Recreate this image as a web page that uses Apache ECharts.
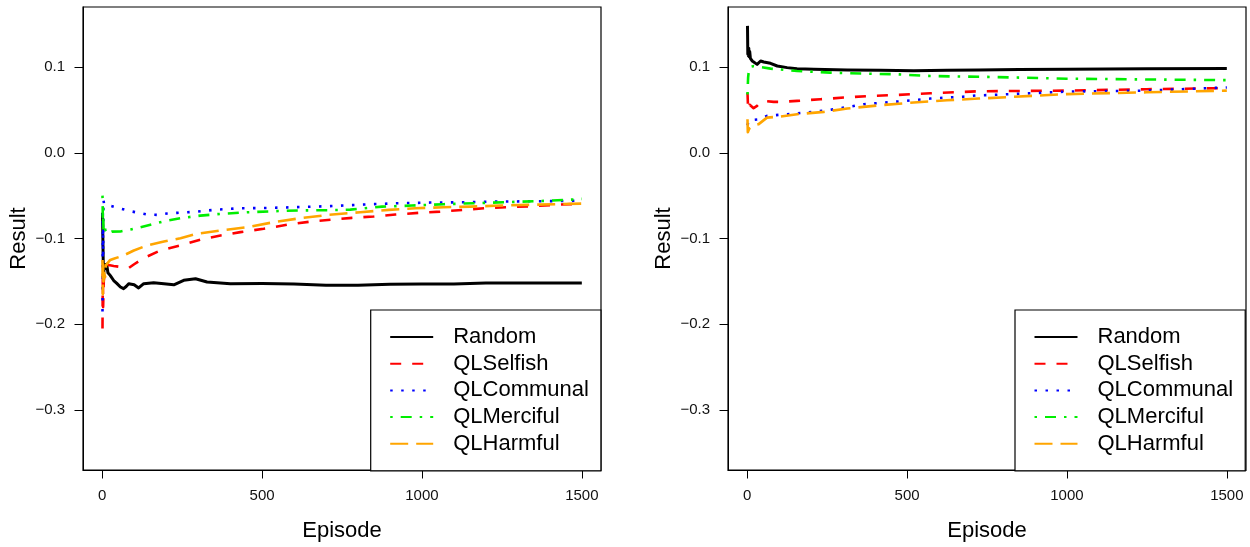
<!DOCTYPE html>
<html>
<head>
<meta charset="utf-8">
<script src="https://cdn.jsdelivr.net/npm/echarts@6/dist/echarts.min.js"></script>
<style>html,body{margin:0;padding:0;background:#fff}#c{width:1250px;height:547px}</style>
</head>
<body>
<div id="c"></div>
<script>
// ---- data ----
const seriesNames = ['Random', 'QLSelfish', 'QLCommunal', 'QLMerciful', 'QLHarmful'];
const xTicks = [0, 500, 1000, 1500];
const yTicks = [-0.3, -0.2, -0.1, 0.0, 0.1];

// Left panel
const randomL_ep = [1,2,3,4,5,7,10,14,18,25,36,45,57,67,75,83,100,114,130,161,193,224,255,292,328,401,500,600,700,800,900,1000,1100,1200,1300,1400,1500];
const randomL_val = [-0.07,-0.095,-0.12,-0.145,-0.14,-0.13,-0.135,-0.13,-0.14,-0.143,-0.149,-0.152,-0.1566,-0.1585,-0.156,-0.1527,-0.154,-0.1577,-0.1527,-0.1515,-0.1527,-0.154,-0.1488,-0.1469,-0.1508,-0.1527,-0.1525,-0.153,-0.1545,-0.1545,-0.1535,-0.153,-0.153,-0.152,-0.152,-0.152,-0.1518];

const selfishL_ep = [1,2,3,5,8,12,20,36,55,83,100,130,182,245,307,370,432,505,578,661,724,781,849,917,989,1057,1130,1198,1266,1339,1412,1479,1500];
const selfishL_val = [-0.205,-0.14,-0.18,-0.15,-0.14,-0.135,-0.131,-0.132,-0.133,-0.1345,-0.13,-0.1228,-0.114,-0.108,-0.1015,-0.0965,-0.0926,-0.0887,-0.084,-0.0798,-0.0779,-0.0759,-0.0744,-0.0721,-0.0701,-0.0686,-0.0666,-0.0647,-0.0635,-0.0624,-0.0608,-0.0597,-0.0595];

const communalL_ep = [1,2,3,4,6,10,31,52,94,141,172,203,234,266,297,359,432,505,599,703,818,922,1026,1130,1234,1339,1453,1500];
const communalL_val = [-0.185,-0.07,-0.12,-0.055,-0.06,-0.0585,-0.0624,-0.0647,-0.0686,-0.0721,-0.0725,-0.0709,-0.0701,-0.0694,-0.0686,-0.0663,-0.0647,-0.0645,-0.0635,-0.0624,-0.0604,-0.0589,-0.0581,-0.0577,-0.057,-0.0566,-0.0562,-0.0558];

const mercifulL_ep = [1,2,3,4,6,10,20,30,57,89,120,151,193,245,307,370,453,536,620,708,776,875,969,1068,1161,1255,1354,1453,1500];
const mercifulL_val = [-0.05,-0.075,-0.065,-0.09,-0.085,-0.09,-0.095,-0.092,-0.0918,-0.0895,-0.0868,-0.084,-0.080,-0.0763,-0.0733,-0.0713,-0.0694,-0.0682,-0.0672,-0.067,-0.0663,-0.0628,-0.0616,-0.06,-0.0589,-0.0577,-0.0565,-0.055,-0.0538];

const harmfulL_ep = [1,2,3,4,6,9,12,25,36,67,99,141,193,245,297,370,453,536,620,708,807,896,979,1068,1151,1245,1328,1417,1500];
const harmfulL_val = [-0.125,-0.165,-0.13,-0.15,-0.14,-0.145,-0.131,-0.125,-0.1236,-0.1198,-0.114,-0.108,-0.1035,-0.0996,-0.0945,-0.0907,-0.0868,-0.081,-0.0763,-0.0724,-0.0693,-0.0666,-0.0647,-0.0635,-0.0628,-0.0616,-0.0608,-0.06,-0.0593];

// Right panel
const randomR_ep = [1,2,3,4,5,6,8,10,13,16,21,31,42,52,73,94,125,156,208,313,417,521,625,724,850,1000,1250,1500];
const randomR_val = [0.148,0.115,0.12,0.113,0.122,0.112,0.118,0.11,0.108,0.107,0.105,0.1031,0.107,0.1058,0.1043,0.1012,0.0993,0.0981,0.0973,0.0965,0.0962,0.0957,0.0962,0.0965,0.097,0.0974,0.098,0.0982];

const selfishR_ep = [1,2,3,5,8,12,20,31,47,83,104,156,229,302,385,469,573,677,724,1000,1250,1500];
const selfishR_val = [0.07,0.06,0.05,0.052,0.056,0.054,0.052,0.0547,0.0605,0.0593,0.0593,0.0605,0.0624,0.0644,0.0663,0.0674,0.0694,0.071,0.0717,0.0725,0.0741,0.0754];

const communalR_ep = [1,3,6,8,19,38,62,125,188,260,365,469,573,677,719,750,1000,1250,1500];
const communalR_val = [0.032,0.035,0.0353,0.0384,0.0384,0.039,0.043,0.045,0.047,0.05,0.0566,0.0597,0.0632,0.0655,0.067,0.0672,0.0713,0.0725,0.0762];

const mercifulR_ep = [1,2,3,5,8,12,20,40,73,156,260,365,469,573,677,750,1000,1250,1500];
const mercifulR_val = [0.068,0.079,0.088,0.095,0.1,0.102,0.101,0.1,0.0981,0.0954,0.0935,0.0923,0.0915,0.0895,0.0888,0.0885,0.0864,0.0855,0.0847];

const harmfulR_ep = [1,2,4,6,10,20,36,62,104,156,240,313,417,521,625,724,1000,1250,1500];
const harmfulR_val = [0.039,0.024,0.023,0.028,0.03,0.032,0.0334,0.041,0.0423,0.045,0.0477,0.0516,0.0555,0.0586,0.0613,0.0632,0.0684,0.0705,0.0725];

// ---- styles ----
const FONT = "'Liberation Sans', Arial, Helvetica, sans-serif";
const styles = {
  'Random':     {color: '#000000', type: 'solid', width: 3},
  'QLSelfish':  {color: '#ff0000', type: [11, 11], width: 2.6},
  'QLCommunal': {color: '#0000ff', type: [2.5, 8.5], width: 2.6},
  'QLMerciful': {color: '#00ee00', type: [2.5, 8, 11, 8], width: 2.6},
  'QLHarmful':  {color: '#ffa500', type: [18, 8], width: 2.6}
};

const zip = (xs, ys) => xs.map((x, i) => [x, ys[i]]);
const panels = [
  [zip(randomL_ep, randomL_val), zip(selfishL_ep, selfishL_val), zip(communalL_ep, communalL_val), zip(mercifulL_ep, mercifulL_val), zip(harmfulL_ep, harmfulL_val)],
  [zip(randomR_ep, randomR_val), zip(selfishR_ep, selfishR_val), zip(communalR_ep, communalR_val), zip(mercifulR_ep, mercifulR_val), zip(harmfulR_ep, harmfulR_val)]
];

const gridLefts = [83, 728];
const grids = gridLefts.map(l => ({left: l, top: 7, width: 518, height: 464.5, show: true, borderColor: '#000', borderWidth: 1.2, containLabel: false}));

const fmtY = v => {
  const s = Number(v).toFixed(1);
  return s.startsWith('-') ? '\u2212' + s.slice(1) : s;
};

const xAxes = gridLefts.map((_, i) => ({
  type: 'value', gridIndex: i, min: -59.96, max: 1559.96,
  name: 'Episode', nameLocation: 'middle', nameGap: 50,
  nameTextStyle: {fontFamily: FONT, fontSize: 22, color: '#000'},
  axisLine: {show: true, onZero: false, lineStyle: {color: '#000', width: 1}},
  axisTick: {show: true, length: 8.5, inside: false, customValues: xTicks, lineStyle: {color: '#000', width: 1}},
  axisLabel: {show: true, customValues: xTicks, margin: 18, fontFamily: FONT, fontSize: 15, color: '#111', formatter: v => String(Math.round(v))},
  splitLine: {show: false}
}));

const yAxes = gridLefts.map((_, i) => ({
  type: 'value', gridIndex: i, min: -0.37, max: 0.17,
  name: 'Result', nameLocation: 'middle', nameGap: 53, nameRotate: 90,
  nameTextStyle: {fontFamily: FONT, fontSize: 22, color: '#000'},
  axisLine: {show: true, onZero: false, lineStyle: {color: '#000', width: 1}},
  axisTick: {show: true, length: 8.5, inside: false, customValues: yTicks, lineStyle: {color: '#000', width: 1}},
  axisLabel: {show: true, customValues: yTicks, margin: 18, fontFamily: FONT, fontSize: 15, color: '#111', formatter: fmtY},
  splitLine: {show: false}
}));

const series = [];
panels.forEach((p, gi) => {
  p.forEach((data, si) => {
    const name = seriesNames[si];
    const st = styles[name];
    series.push({
      type: 'line', name: name, xAxisIndex: gi, yAxisIndex: gi,
      data: data, symbol: 'none', showSymbol: false, smooth: false,
      lineStyle: {color: st.color, type: st.type, width: st.width, cap: 'butt', join: 'round'},
      itemStyle: {color: st.color},
      emphasis: {disabled: true}
    });
  });
});

const legends = [370.7, 1015].map(l => ({
  data: seriesNames, orient: 'vertical', left: l, top: 310,
  selectedMode: false,
  backgroundColor: '#fff', borderColor: '#000', borderWidth: 1.2,
  padding: [16, 12, 16, 18.5],
  itemWidth: 43, itemHeight: 14, itemGap: 4.7,
  itemStyle: {opacity: 0, borderWidth: 0},
  textStyle: {fontFamily: FONT, fontSize: 22, color: '#000', lineHeight: 22, padding: [0, 0, 0, 15]}
}));

const chart = echarts.init(document.getElementById('c'), null, {renderer: 'canvas'});
chart.setOption({
  animation: false,
  backgroundColor: '#fff',
  grid: grids,
  xAxis: xAxes,
  yAxis: yAxes,
  legend: legends,
  series: series
});
</script>
</body>
</html>
